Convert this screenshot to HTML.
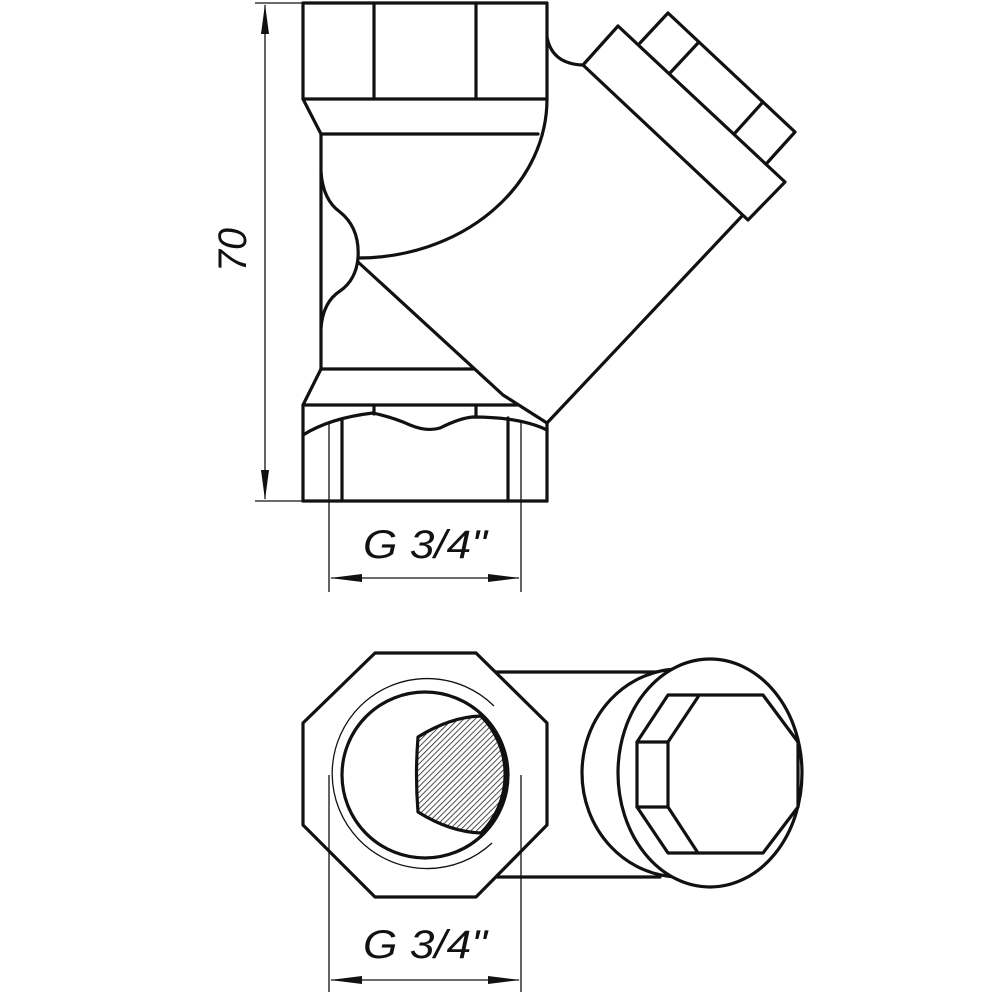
<!DOCTYPE html>
<html><head><meta charset="utf-8"><style>html,body{margin:0;padding:0;background:#fff}svg{display:block}</style></head>
<body>
<svg width="1000" height="1000" viewBox="0 0 1000 1000" xmlns="http://www.w3.org/2000/svg">
<defs>
<pattern id="h" width="4" height="4" patternUnits="userSpaceOnUse" patternTransform="rotate(45)">
<rect width="4" height="4" fill="#fff"/><line x1="0" y1="0" x2="0" y2="4" stroke="#222" stroke-width="1.6"/>
</pattern>
</defs>
<g fill="none" stroke="#111" stroke-width="3.2" stroke-linejoin="round" stroke-linecap="round">
<!-- top view -->
<rect x="303" y="3" width="244" height="96"/>
<line x1="374" y1="3" x2="374" y2="99"/>
<line x1="476" y1="3" x2="476" y2="99"/>
<path d="M303,99 L321,134 L538,134"/>
<path d="M547,99 A189 159 0 0 1 358,258"/>
<line x1="321" y1="134" x2="321" y2="369"/>
<path d="M321,172 Q323,200 340,212 Q360,228 358,258 Q356,280 340,291 Q323,302 321,328"/>
<path d="M358,262 L503,395 L547,423"/>
<path d="M321,369 L473,369"/>
<path d="M321,369 L303,405 L517,405"/>
<line x1="303" y1="405" x2="303" y2="501"/>
<line x1="547" y1="423" x2="547" y2="501"/>
<line x1="303" y1="501" x2="547" y2="501"/>
<line x1="374" y1="405" x2="374" y2="414"/>
<line x1="476" y1="405" x2="476" y2="416"/>
<path d="M303,435 Q330,418 373,413 Q395,418 410,425 Q427,432 440,428 Q460,418 473,417 Q520,417 547,430"/>
<line x1="342" y1="420" x2="342" y2="501"/>
<line x1="508" y1="418" x2="508" y2="501"/>
<path d="M547,423 L742,216"/>
<path d="M547,37 Q552,64 583,65"/>
<path d="M583,65 L618,26 L785,182 L748,220 Z"/>
<path d="M640,43 L668,13 L795,132 L767,163"/>
<line x1="670" y1="73" x2="698" y2="43"/>
<line x1="735" y1="133" x2="763" y2="102"/>
<!-- bottom view -->
<line x1="495" y1="672" x2="660" y2="672"/>
<line x1="495" y1="877" x2="660" y2="877"/>
<ellipse cx="680" cy="773" rx="98" ry="104" fill="#fff"/>
<ellipse cx="710" cy="773" rx="92" ry="114" fill="#fff"/>
<polygon points="668,695 763,695 798,742 798,807 763,853 668,853 637,807 637,742" fill="#fff"/>
<path d="M698,697 L668,742 L668,807 L698,853"/>
<line x1="637" y1="742" x2="668" y2="742"/>
<line x1="637" y1="807" x2="668" y2="807"/>
<polygon points="375,653 476,653 547,723 547,825 476,897 375,897 303,825 303,723" fill="#fff"/>
<circle cx="425" cy="775" r="83"/>
<path d="M418,737 Q450,717 481,716 A83 83 0 0 1 481,833 Q450,832 418,812 Q415,775 418,737 Z" fill="url(#h)"/>
</g>
<g fill="none" stroke="#111" stroke-width="1.3">
<path d="M494,706 A95 95 0 1 0 492,843"/>
<!-- dimensions -->
<line x1="255" y1="3" x2="303" y2="3"/>
<line x1="255" y1="501" x2="303" y2="501"/>
<line x1="265" y1="5" x2="265" y2="499"/>
<line x1="329" y1="422" x2="329" y2="592"/>
<line x1="521" y1="420" x2="521" y2="592"/>
<line x1="331" y1="578" x2="519" y2="578"/>
<line x1="329" y1="775" x2="329" y2="992"/>
<line x1="521" y1="775" x2="521" y2="992"/>
<line x1="331" y1="980" x2="519" y2="980"/>
</g>
<g fill="#111">
<polygon points="265,4 261,34 269,34"/>
<polygon points="265,500 261,470 269,470"/>
<polygon points="330,578 362,574 362,582"/>
<polygon points="520,578 488,574 488,582"/>
<polygon points="330,980 362,976 362,984"/>
<polygon points="520,980 488,976 488,984"/>
</g>
<g font-family="'Liberation Sans Narrow','Liberation Sans',sans-serif" font-style="italic" font-size="40" fill="#111">
<text x="363" y="558" textLength="124" lengthAdjust="spacingAndGlyphs">G 3/4"</text>
<text x="363" y="958" textLength="124" lengthAdjust="spacingAndGlyphs">G 3/4"</text>
<text transform="translate(246,272) rotate(-90)" textLength="44" lengthAdjust="spacingAndGlyphs">70</text>
</g>
</svg>
</body></html>
